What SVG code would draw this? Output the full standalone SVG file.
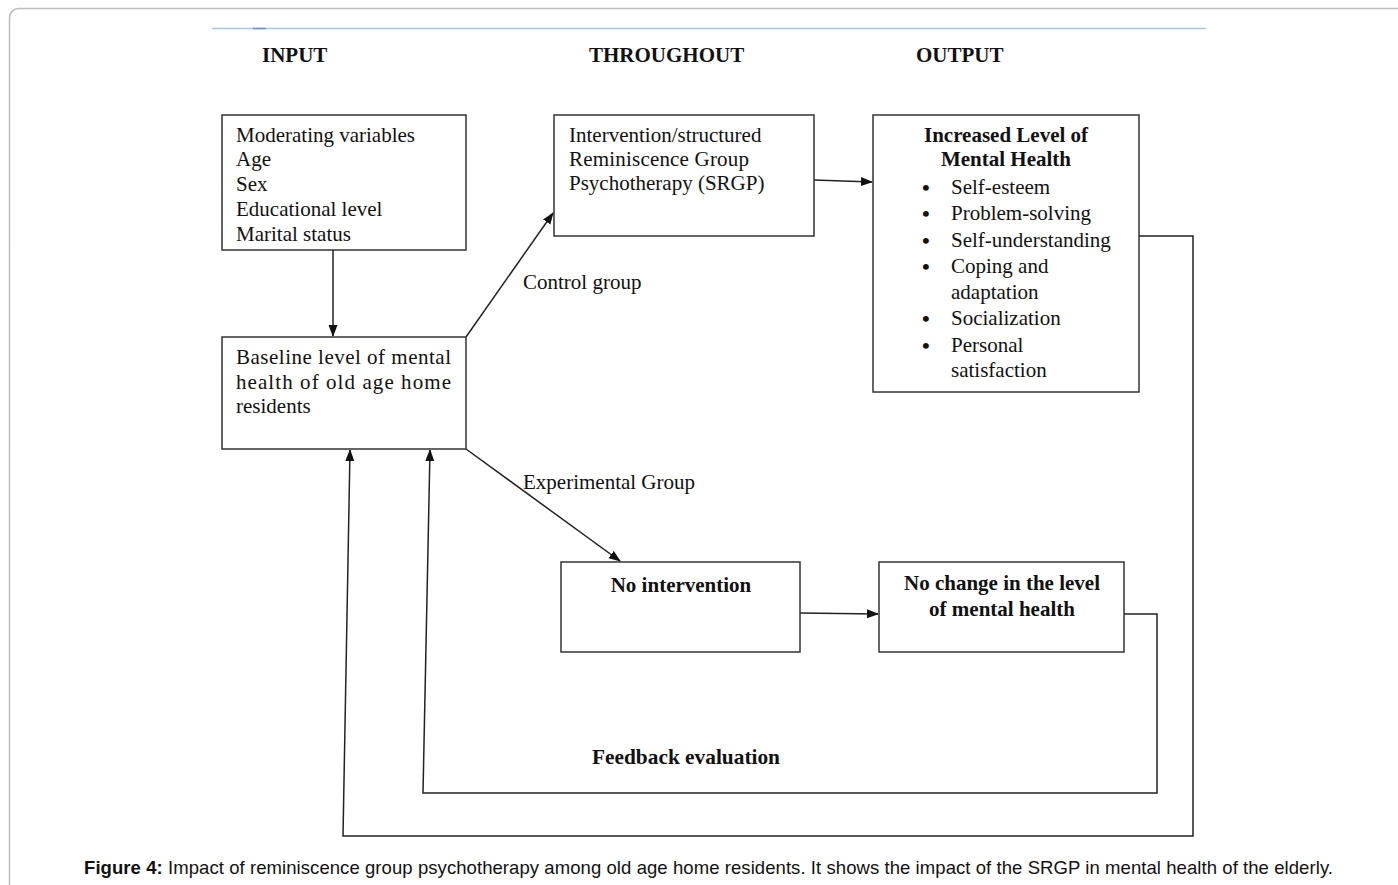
<svg xmlns="http://www.w3.org/2000/svg" width="1398" height="885" viewBox="0 0 1398 885">
<defs>
<style>
.t{font-family:"Liberation Serif","Times New Roman",serif;font-size:21px;fill:#111}
.b{font-weight:bold}
.bu{font-size:22px;font-weight:bold}
.h{font-family:"Liberation Serif","Times New Roman",serif;font-size:21px;font-weight:bold;fill:#111}
.box{fill:#fff;stroke:#333;stroke-width:1.5}
.ln{fill:none;stroke:#222;stroke-width:1.5}
.cap{font-family:"Liberation Sans",Arial,sans-serif;font-size:18.5px;fill:#111}
</style>
<marker id="ah" markerWidth="12" markerHeight="10" refX="11" refY="5" orient="auto" markerUnits="userSpaceOnUse">
<path d="M0,0.5 L12,5 L0,9.5 Z" fill="#111"/>
</marker>
</defs>
<rect width="1398" height="885" fill="#fff"/>
<rect x="9.5" y="8.5" width="1410" height="900" rx="9" fill="none" stroke="#bdbdbd" stroke-width="1.5"/>
<line x1="212" y1="28.5" x2="1206" y2="28.5" stroke="#a9c4e8" stroke-width="1.5"/>
<line x1="253" y1="28.5" x2="266" y2="28.5" stroke="#6f8fbf" stroke-width="1.5"/>

<g id="headers">
<text class="h" x="262" y="62">INPUT</text>
<text class="h" x="589" y="62">THROUGHOUT</text>
<text class="h" x="916" y="62">OUTPUT</text>
</g>

<g id="connectors">
<line class="ln" x1="333" y1="250" x2="333" y2="336" marker-end="url(#ah)"/>
<line class="ln" x1="466" y1="337" x2="553" y2="213" marker-end="url(#ah)"/>
<line class="ln" x1="466" y1="449" x2="620" y2="561" marker-end="url(#ah)"/>
<line class="ln" x1="814" y1="180" x2="872" y2="182" marker-end="url(#ah)"/>
<line class="ln" x1="800" y1="613" x2="878" y2="614" marker-end="url(#ah)"/>
<polyline class="ln" points="1124,614 1157,614 1157,793 423,793 430,450" marker-end="url(#ah)"/>
<polyline class="ln" points="1139,236 1193,236 1193,836 343,836 350,450" marker-end="url(#ah)"/>
<text class="t" x="523" y="289">Control group</text>
<text class="t" x="523" y="489">Experimental Group</text>
<text class="h" x="592" y="764" textLength="188" lengthAdjust="spacingAndGlyphs">Feedback evaluation</text>
</g>

<g id="moderating">
<rect class="box" x="222" y="115" width="244" height="135"/>
<text class="t" x="236" y="142">Moderating variables</text>
<text class="t" x="236" y="166">Age</text>
<text class="t" x="236" y="191">Sex</text>
<text class="t" x="236" y="216">Educational level</text>
<text class="t" x="236" y="241">Marital status</text>
</g>

<g id="intervention">
<rect class="box" x="554" y="115" width="260" height="121"/>
<text class="t" x="569" y="142">Intervention/structured</text>
<text class="t" x="569" y="166" textLength="180" lengthAdjust="spacing">Reminiscence Group</text>
<text class="t" x="569" y="190">Psychotherapy (SRGP)</text>
</g>

<g id="increased">
<rect class="box" x="873" y="115" width="266" height="277"/>
<text class="t b" x="1006" y="142" text-anchor="middle">Increased Level of</text>
<text class="t b" x="1006" y="166" text-anchor="middle">Mental Health</text>
<g class="t">
<text class="bu" x="922" y="195">•</text><text x="951" y="194">Self-esteem</text>
<text class="bu" x="922" y="221">•</text><text x="951" y="220">Problem-solving</text>
<text class="bu" x="922" y="248">•</text><text x="951" y="247">Self-understanding</text>
<text class="bu" x="922" y="274">•</text><text x="951" y="273">Coping and</text>
<text x="951" y="299">adaptation</text>
<text class="bu" x="922" y="326">•</text><text x="951" y="325">Socialization</text>
<text class="bu" x="922" y="353">•</text><text x="951" y="352">Personal</text>
<text x="951" y="377">satisfaction</text>
</g>
</g>

<g id="baseline">
<rect class="box" x="222" y="337" width="244" height="112"/>
<text class="t" x="236" y="364" textLength="215" lengthAdjust="spacing">Baseline level of mental</text>
<text class="t" x="236" y="389" textLength="215" lengthAdjust="spacing">health of old age home</text>
<text class="t" x="236" y="413">residents</text>
</g>

<g id="nointervention">
<rect class="box" x="561" y="562" width="239" height="90"/>
<text class="t b" x="681" y="592" text-anchor="middle">No intervention</text>
</g>

<g id="nochange">
<rect class="box" x="879" y="562" width="245" height="90"/>
<text class="t b" x="1002" y="590" text-anchor="middle">No change in the level</text>
<text class="t b" x="1002" y="616" text-anchor="middle">of mental health</text>
</g>

<text class="cap" x="84" y="874" textLength="1249" lengthAdjust="spacing"><tspan font-weight="bold">Figure 4:</tspan> Impact of reminiscence group psychotherapy among old age home residents. It shows the impact of the SRGP in mental health of the elderly.</text>
</svg>
